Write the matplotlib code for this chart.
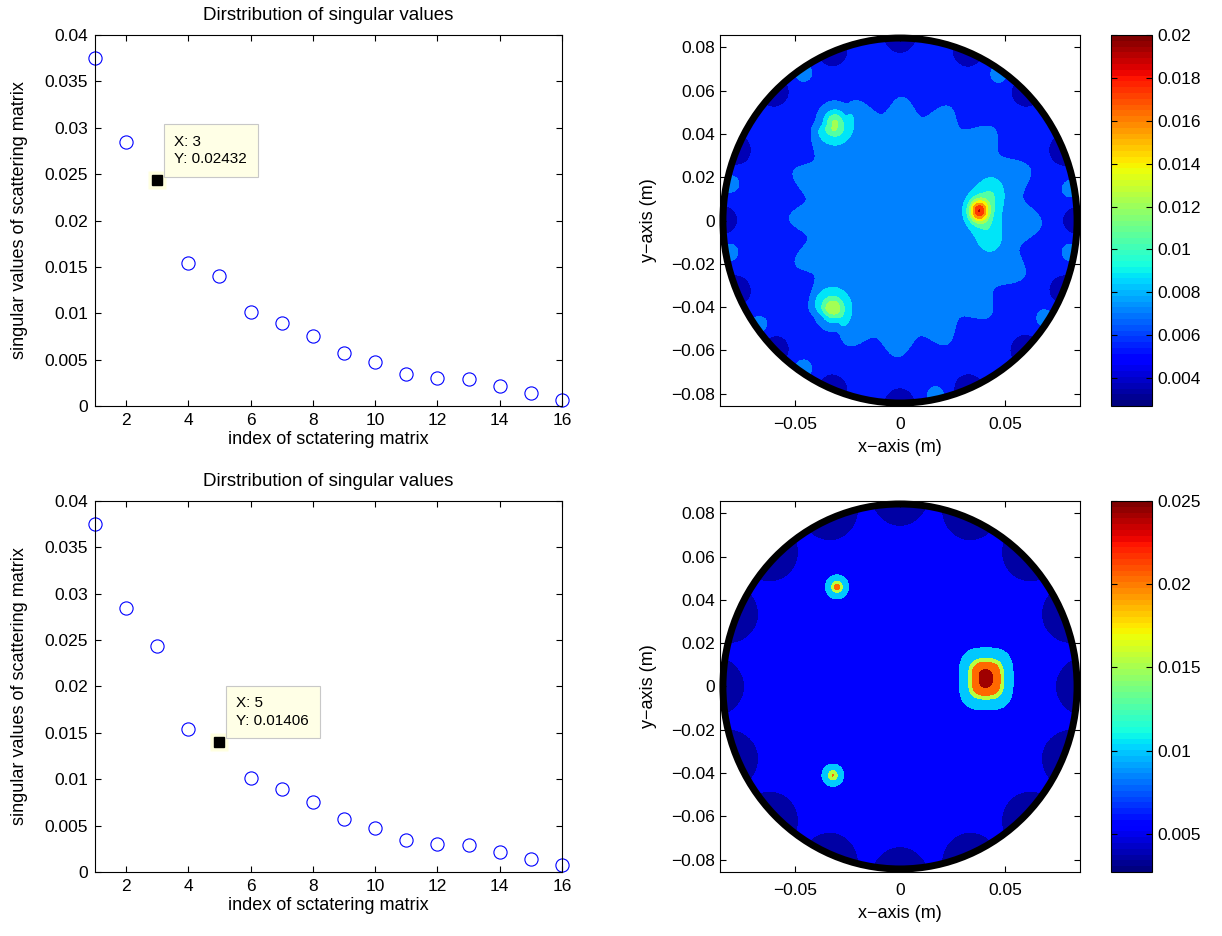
import numpy as np
import matplotlib
matplotlib.use("Agg")
import matplotlib.pyplot as plt
from matplotlib import cm, ticker
from matplotlib.colors import Normalize
from matplotlib.patches import Circle

plt.rcParams['font.family'] = ['Liberation Sans', 'DejaVu Sans']
plt.rcParams['axes.linewidth'] = 0.8

# valori singolari della matrice di scattering
indici = np.arange(1, 17)
valori_singolari = [0.0375, 0.0285, 0.02432, 0.0154, 0.01406, 0.0101, 0.0089, 0.0075,
                    0.0057, 0.0047, 0.0034, 0.0030, 0.0029, 0.0022, 0.0014, 0.0007]
datatip = [3, 5]  # indice selezionato nel pannello in alto / in basso

titolo = "Dirstribution of singular values"
xlab_sv = "index of sctatering matrix"
ylab_sv = "singular values of scattering matrix"

# mappe di ricostruzione
raggio = 0.085
angoli_sonde = np.arange(16) * 22.5          # posizione delle antenne sul bordo (gradi)
angoli_chiari = [124, 168, 190, -144, -124, -78, -33, -10, 10, 55]   # chiazze azzurre sul bordo (mappa 1)

# (x0, y0, ampiezza, sigma_x, sigma_y)
picchi_1 = [(0.0375, 0.0045, 0.0092, 0.0032, 0.0036),
            (0.040, 0.004, 0.0022, 0.0055, 0.008),
            (0.044, 0.013, 0.0016, 0.004, 0.005),
            (0.043, -0.008, 0.0016, 0.004, 0.005),
            (-0.031, 0.045, 0.0050, 0.0036, 0.004),
            (-0.031, 0.045, 0.0013, 0.008, 0.009),
            (-0.032, -0.041, 0.0050, 0.0036, 0.004),
            (-0.032, -0.041, 0.0013, 0.008, 0.009)]
picchi_2 = [(-0.030, 0.046, 0.0143, 0.0024, 0.0024),
            (-0.032, -0.041, 0.0125, 0.0023, 0.0023),
            (0.0405, 0.0045, 0.0016, 0.0022, 0.0045)]
picco_quadro_2 = (0.041, 0.0035, 0.0185, 0.009, 0.010)

livelli_1 = np.linspace(0.0027, 0.02, 11)
livelli_2 = [0.0027, 0.0042, 0.0062, 0.0135, 0.0175, 0.0235, 0.0252]
vlim_1 = (0.0027, 0.02)
vlim_2 = (0.0027, 0.025)
cbar_ticks_1 = [0.004, 0.006, 0.008, 0.01, 0.012, 0.014, 0.016, 0.018, 0.02]
cbar_ticks_2 = [0.005, 0.01, 0.015, 0.02, 0.025]


def fmt(v, p=None):
    return ('%g' % v).replace('-', '\u2212')


def gauss(X, Y, x0, y0, a, sx, sy):
    return a * np.exp(-((X - x0) ** 2) / (2 * sx ** 2) - ((Y - y0) ** 2) / (2 * sy ** 2))


g = np.linspace(-0.0857, 0.0857, 600)
X, Y = np.meshgrid(g, g)
R = np.hypot(X, Y)
T = np.arctan2(Y, X)

# mappa 1
r_b = (0.056 + 0.004 * np.cos(16 * T + 0.3) + 0.003 * np.cos(3 * T - 0.5)
       + 0.005 * np.cos(T + 0.3))
Z1 = 0.0053 + 0.0017 * 0.5 * (1 + np.tanh((r_b - R) / 0.002))
for p in picchi_1:
    Z1 += gauss(X, Y, *p)
for a in angoli_chiari:
    t = np.radians(a)
    Z1 += gauss(X, Y, 0.083 * np.cos(t), 0.083 * np.sin(t), 0.0013, 0.005, 0.005)
for a in angoli_sonde:
    t = np.radians(a)
    Z1 -= gauss(X, Y, 0.085 * np.cos(t), 0.085 * np.sin(t), 0.0032, 0.0048, 0.0048)
Z1 = np.clip(Z1, vlim_1[0] + 1e-5, vlim_1[1] - 1e-5)

# mappa 2
Z2 = np.full_like(X, 0.0052)
x0, y0, a0, sx0, sy0 = picco_quadro_2
Z2 += a0 * np.exp(-(np.abs(X - x0) / sx0) ** 3 - (np.abs(Y - y0) / sy0) ** 3)
for p in picchi_2:
    Z2 += gauss(X, Y, *p)
for a in angoli_sonde:
    t = np.radians(a)
    Z2 -= gauss(X, Y, 0.087 * np.cos(t), 0.087 * np.sin(t), 0.0045, 0.0075, 0.0075)
Z2 = np.clip(Z2, vlim_2[0] + 1e-5, livelli_2[-1] - 1e-5)

fig = plt.figure(figsize=(12.22, 9.36), dpi=100)

h = 0.3964
righe = [(0.5662, Z1, livelli_1, vlim_1, cbar_ticks_1, datatip[0]),
         (0.0684, Z2, livelli_2, vlim_2, cbar_ticks_2, datatip[1])]

for bottom, Z, livelli, vlim, cticks, tip in righe:
    # valori singolari
    ax = fig.add_axes([0.0777, bottom, 0.3822, h])
    mask = indici != tip
    ax.plot(indici[mask], np.array(valori_singolari)[mask], 'o', mfc='none', mec='blue',
            ms=9.5, mew=0.8, clip_on=False)
    ytip = valori_singolari[tip - 1]
    ax.plot(tip, ytip, 's', color='#ffffe0', ms=13, mec='none')
    ax.plot(tip, ytip, 's', color='black', ms=7.5)
    ax.annotate("X: %d\nY: %.5f" % (tip, ytip), (tip, ytip), xytext=(17, 14),
                textcoords='offset pixels', ha='left', va='bottom', fontsize=11,
                linespacing=1.3,
                bbox=dict(boxstyle='square,pad=0.7', fc='#ffffe6', ec='#c8c8c8', lw=0.8))
    ax.set_xlim(1, 16)
    ax.set_ylim(0, 0.04)
    ax.set_xticks(range(2, 17, 2))
    ax.set_yticks(np.arange(0, 0.0401, 0.005))
    ax.yaxis.set_major_formatter(ticker.FuncFormatter(fmt))
    ax.tick_params(direction='in', top=True, right=True, labelsize=12.5, length=4, pad=5)
    ax.set_title(titolo, fontsize=13.5, pad=11)
    ax.set_xlabel(xlab_sv, fontsize=13, labelpad=2)
    ax.set_ylabel(ylab_sv, fontsize=13, labelpad=12)

    # mappa
    norm = Normalize(*vlim)
    ax2 = fig.add_axes([0.5892, bottom, 0.2946, h])
    Zm = np.ma.masked_where(R > raggio, Z)
    ax2.contourf(X, Y, Zm, levels=livelli, cmap='jet', norm=norm)
    ax2.add_patch(Circle((0, 0), raggio - 0.0007, fill=False, lw=5, ec='black', clip_on=False))
    ax2.set_xlim(-0.0857, 0.0857)
    ax2.set_ylim(-0.0857, 0.0857)
    ax2.set_xticks([-0.05, 0, 0.05])
    ax2.set_yticks(np.arange(-0.08, 0.081, 0.02))
    ax2.xaxis.set_major_formatter(ticker.FuncFormatter(fmt))
    ax2.yaxis.set_major_formatter(ticker.FuncFormatter(lambda v, p: fmt(round(v, 3))))
    ax2.tick_params(direction='in', top=True, right=True, labelsize=12.5, length=4)
    ax2.tick_params(axis='x', pad=8)
    ax2.set_xlabel("x\u2212axis (m)", fontsize=13, labelpad=5)
    ax2.set_ylabel("y\u2212axis (m)", fontsize=13, labelpad=10)

    cax = fig.add_axes([0.9092, bottom, 0.0336, h])
    sm = cm.ScalarMappable(norm=norm, cmap=plt.get_cmap('jet', 64))
    cb = fig.colorbar(sm, cax=cax, ticks=cticks)
    cb.outline.set_linewidth(0.8)
    cb.ax.yaxis.set_major_formatter(ticker.FuncFormatter(fmt))
    cb.ax.tick_params(direction='in', left=True, right=True, labelsize=12.5, length=4)

fig.savefig("out.png", dpi=100)
